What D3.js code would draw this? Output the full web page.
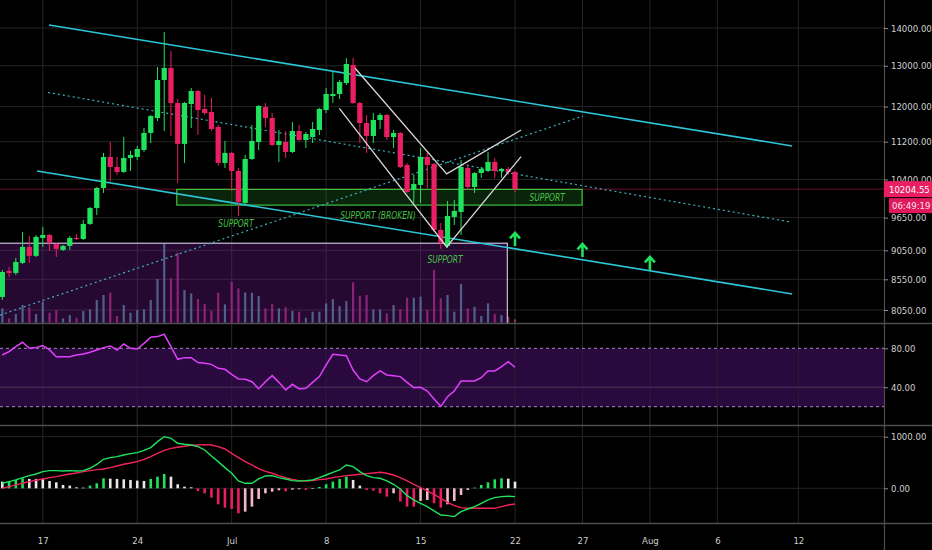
<!DOCTYPE html>
<html><head><meta charset="utf-8">
<script src="https://cdn.jsdelivr.net/npm/d3@7"></script>
<style>
body{margin:0;background:#000;}
svg{display:block;}
text{font-family:"Liberation Sans Narrow","DejaVu Sans Condensed","Liberation Sans",sans-serif;}
</style>
</head><body>
<svg id="chart" width="932" height="550"></svg>
<script>
// ---------- DATA ----------
const firstCandle = "2019-06-14T00:00";
const lastCandle  = "2019-07-22T00:00";
const opens = [8259,8691,8657,8829,9111,8951,9273,9327,9164,9057,
  9129,9273,9254,9531,9835,10228,10870,10659,10555,10849,
  10870,11020,11394,11734,12642,12944,12085,11151,12061,12372,
  11943,11872,11529,10743,10956,10575,9932,10827,11194,11990,
  11734,11129,11194,10977,11438,11238,11304,11461,11919,12252,
  12300,12567,13020,12085,11619,11327,11688,11803,11304,11394,
  10701,10188,10289,10870,10722,9419,9129,9663,9758,10638,
  10248,10533,10575,10764,10575,10617,10554];
const highs = [8708,8760,8916,9382,9309,9327,9475,9346,9182,9146,
  9309,9346,9606,9854,10249,10956,11194,10870,11305,11000,
  11107,11506,11803,12969,13891,13383,12180,12108,12446,12396,
  12276,12204,11574,11216,10977,10638,10913,11574,12037,12085,
  11849,11461,11438,11642,11574,11416,11642,11967,12446,12842,
  12642,13198,13198,12108,11803,11849,11849,11826,11461,11416,
  10743,10492,11064,10956,10743,9550,9970,9990,10806,10722,
  10554,10659,10977,10849,10638,10659,10575];
const lows = [8210,8590,8623,8810,8829,8933,9111,9039,8933,9039,
  9057,9236,9236,9512,9701,10129,10350,10493,10534,10575,
  10806,10977,11172,11665,11438,11327,10329,10743,11506,11349,
  11803,11438,10680,10638,10168,9681,9893,10806,11020,11529,
  11107,10764,10849,10956,11216,11064,11172,11349,11849,12085,
  12180,12518,12061,11172,10956,11172,11483,11238,11064,10638,
  10129,9932,9932,10228,9383,9075,9093,9512,9327,10188,
  10129,10431,10554,10431,10431,10492,10148];
const closes = [8674,8657,8846,9111,8951,9291,9327,9182,9075,9129,
  9273,9254,9531,9835,10228,10870,10659,10555,10849,10913,
  11042,11394,11780,12642,12944,12085,11151,12085,12372,11919,
  11849,11483,10743,10956,10575,9951,10827,11216,12013,11734,
  11129,11216,10977,11438,11238,11371,11483,11943,12300,12300,
  12592,13045,12085,11619,11327,11688,11803,11304,11394,10659,
  10148,10309,10870,10701,9419,9182,9681,9777,10659,10248,
  10533,10617,10764,10575,10617,10554,10204.55];
const volumes = [43,13,26,53,46,26,63,30,38,13,
  23,15,35,40,68,83,90,20,53,30,
  38,40,68,131,236,133,210,98,88,71,
  56,36,90,55,123,103,91,90,80,43,
  56,43,46,35,33,15,33,33,58,71,
  50,65,121,81,83,40,40,28,53,40,
  75,75,78,38,158,73,83,33,116,43,
  48,20,58,26,23,18,10];
const rsi = [73.1,76.6,81.7,86.2,80.0,80.7,82.7,78.3,71.4,71.4,
  71.4,73.1,74.2,75.9,78.3,80.7,82.4,78.3,84.4,80.0,
  79.3,85.1,91.3,92.0,94.4,81.7,68.7,70.4,70.4,65.3,
  64.6,63.5,59.4,58.4,53.3,48.5,48.1,45.7,38.5,45.7,
  51.9,45.0,37.2,43.0,38.2,38.9,45.0,50.9,62.9,73.8,
  73.1,72.4,57.7,48.5,45.7,51.9,56.7,52.6,51.9,50.9,
  45.0,39.6,39.9,36.1,27.9,20.4,30.3,36.1,46.4,46.4,
  46.4,49.8,56.7,56.7,61.1,66.3,60.5];
const macdLine = [97,129,162,207,245,278,323,342,342,336,
  342,336,342,388,465,562,594,614,646,672,
  691,736,788,904,1001,969,872,853,840,808,
  743,627,517,401,291,142,97,97,181,239,
  245,207,181,149,142,149,162,207,258,310,
  355,452,420,323,245,207,194,142,78,-13,
  -142,-226,-291,-355,-439,-517,-530,-549,-452,-401,
  -355,-291,-226,-181,-162,-155,-162];
const signalLine = [0,32,65,97,129,155,181,207,226,252,
  278,297,323,342,362,375,401,433,465,491,
  517,562,614,678,736,775,795,814,833,840,
  846,840,808,762,678,594,517,452,381,329,
  291,245,207,174,149,142,149,168,181,207,
  226,245,258,271,284,297,310,291,258,207,
  142,78,13,-52,-116,-194,-271,-336,-375,-388,
  -388,-388,-388,-388,-355,-323,-304];
const histogram = [129,142,162,194,181,181,181,142,116,65,
  52,19,13,52,97,194,187,181,174,162,
  149,142,181,226,278,226,78,32,19,-52,
  -97,-181,-310,-375,-401,-485,-452,-355,-207,-97,
  -65,-39,-58,-26,-19,-32,-13,26,78,129,
  181,226,162,52,-32,-45,-97,-162,-97,-258,
  -355,-355,-245,-226,-291,-375,-310,-245,-129,-32,
  13,65,116,174,194,187,129];

const priceTicks = [14000,13000,12000,11200,10400,9650,9050,8550,8050];
const rsiTicks = [80,40];
const rsiBand = [80,20];
const macdTicks = [1000,0];
const timeTickDates = ["2019-06-17","2019-06-24","2019-07-01","2019-07-08","2019-07-15","2019-07-22","2019-07-27","2019-08-01","2019-08-06","2019-08-12"];
const timeTickLabels = ["17","24","Jul","8","15","22","27","Aug","6","12"];

const lastPrice = 10204.55;
const countdown = "06:49:19";

// drawings (time, price)
const channelUpper = [["2019-06-17T11:00",14083],["2019-08-11T13:00",11107]];
const channelLower = [["2019-06-16T13:40",10575],["2019-08-11T13:00",8308]];
const channelMid   = [["2019-06-17T09:15",12336],["2019-08-11T09:20",9569]];
const risingDotted = [["2019-06-13T20:00",7970],["2019-07-27T01:00",11780]];
const wedgeUpper = [["2019-07-10T03:30",12936],["2019-07-16T22:30",10514],["2019-07-22T10:50",11461]];
const wedgeLower = [["2019-07-08T23:30",11959],["2019-07-16T22:30",9111],["2019-07-22T10:50",10877]];
const supportBox = {t0:"2019-06-26T22:20", t1:"2019-07-26T23:20", top:10200, bottom:9890};
const volumeBox  = {t0:"2019-06-13T00:00", t1:"2019-07-21T10:20", top:9177, bottom:7700};
const labels = [
  {t:"2019-07-01T07:40", p:9550, text:"SUPPORT"},
  {t:"2019-07-11T20:10", p:9701, text:"SUPPORT (BROKEN)"},
  {t:"2019-07-16T19:30", p:8899, text:"SUPPORT"},
  {t:"2019-07-24T09:10", p:10049, text:"SUPPORT"}
];
const arrows = [["2019-07-22T00:00",9364],["2019-07-27T00:00",9164],["2019-08-01T00:00",8934]];

// ---------- SETUP ----------
const parseT = d3.timeParse("%Y-%m-%dT%H:%M");
const parseD = d3.timeParse("%Y-%m-%d");
const times = d3.timeHour.every(12).range(parseT(firstCandle), d3.timeHour.offset(parseT(lastCandle),1));
const candles = times.map((t,i)=>({t,o:opens[i],h:highs[i],l:lows[i],c:closes[i],v:volumes[i],
  rsi:rsi[i],macd:macdLine[i],sig:signalLine[i],hist:histogram[i]}));

const W=932, H=550, AX=884;
const MAIN_B=323, RSI_T=324, RSI_B=425, MACD_T=426, MACD_B=523;
const UP="#1fe35c", DN="#e91e63";
const AXIS_FONT = 9.5;

const x = d3.scaleTime().domain([parseD("2019-06-17"), parseD("2019-07-22")]).range([42.8, 515]);
const y = d3.scaleLog().domain([8050,14000]).range([310,28]);
const vy = d3.scaleLinear().domain([0,236]).range([322.7,244]);
const ry = d3.scaleLinear().domain([20,80]).range([406.7,348.3]);
const my = d3.scaleLinear().domain([0,1000]).range([488.3,436.7]);

function condense(sel, ratio){
  sel.each(function(){
    const l = this.getComputedTextLength();
    if(l>0) d3.select(this).attr("textLength", l*ratio).attr("lengthAdjust","spacingAndGlyphs");
  });
}

const svg = d3.select("#chart");
svg.append("rect").attr("width",W).attr("height",H).attr("fill","#000");
const defs = svg.append("defs");
function clip(id,y0,y1){defs.append("clipPath").attr("id",id).append("rect").attr("x",0).attr("y",y0).attr("width",AX).attr("height",y1-y0);}
clip("cm",0,MAIN_B); clip("cr",RSI_T,RSI_B); clip("cd",MACD_T,MACD_B);

const GRID="#242424";
const tickDates = timeTickDates.map(parseD);
const vg = svg.append("g");
[[0,MAIN_B],[RSI_T,RSI_B],[MACD_T,MACD_B]].forEach(([a,b])=>{
  vg.selectAll(null).data(tickDates).join("line")
    .attr("x1",d=>x(d)).attr("x2",d=>x(d)).attr("y1",a).attr("y2",b)
    .attr("stroke",GRID).attr("stroke-width",1);
});
svg.append("g").selectAll("line").data(priceTicks).join("line")
  .attr("x1",0).attr("x2",AX).attr("y1",d=>y(d)).attr("y2",d=>y(d))
  .attr("stroke",GRID);

// ---------- MAIN PANE ----------
const main = svg.append("g").attr("clip-path","url(#cm)");
const step = x(d3.timeHour.offset(times[0],12)) - x(times[0]);
const bw = step*0.78;
const T = s=>parseT(s);

main.append("line").attr("x1",0).attr("x2",AX).attr("y1",y(lastPrice)).attr("y2",y(lastPrice))
  .attr("stroke","#e91e63").attr("stroke-opacity",0.45).attr("stroke-width",1);

main.append("g").selectAll("rect").data(candles).join("rect")
  .attr("x",d=>x(d.t)-1.1).attr("width",2.2)
  .attr("y",d=>vy(d.v)).attr("height",d=>vy(0)-vy(d.v))
  .attr("fill",d=>d.c>=d.o?"#4f9aa0":"#b5307a").attr("opacity",0.8);

main.append("rect")
  .attr("x",x(T(volumeBox.t0))).attr("width",x(T(volumeBox.t1))-x(T(volumeBox.t0)))
  .attr("y",y(volumeBox.top)).attr("height",y(volumeBox.bottom)-y(volumeBox.top))
  .attr("fill","#7b1fa2").attr("fill-opacity",0.3)
  .attr("stroke","#cbbbe0").attr("stroke-width",1.2);

main.append("rect")
  .attr("x",x(T(supportBox.t0))).attr("width",x(T(supportBox.t1))-x(T(supportBox.t0)))
  .attr("y",y(supportBox.top)).attr("height",y(supportBox.bottom)-y(supportBox.top))
  .attr("fill","#2e9e30").attr("fill-opacity",0.22)
  .attr("stroke","#3cc23e").attr("stroke-width",1.2);

const line = d3.line().x(d=>x(T(d[0]))).y(d=>y(d[1]));
[channelMid, risingDotted].forEach(p=>main.append("path").attr("d",line(p))
  .attr("fill","none").attr("stroke","#3fb3bf").attr("stroke-width",1.2).attr("stroke-dasharray","2,3"));
[channelUpper, channelLower].forEach(p=>main.append("path").attr("d",line(p))
  .attr("fill","none").attr("stroke","#2cc6d8").attr("stroke-width",1.6));

const cg = main.append("g");
cg.selectAll("line").data(candles).join("line")
  .attr("x1",d=>x(d.t)).attr("x2",d=>x(d.t)).attr("y1",d=>y(d.h)).attr("y2",d=>y(d.l))
  .attr("stroke",d=>d.c>=d.o?UP:DN).attr("stroke-width",1);
cg.selectAll("rect").data(candles).join("rect")
  .attr("x",d=>x(d.t)-bw/2).attr("width",bw)
  .attr("y",d=>y(Math.max(d.o,d.c))).attr("height",d=>Math.max(1.2,Math.abs(y(d.o)-y(d.c))))
  .attr("fill",d=>d.c>=d.o?UP:DN);

[wedgeUpper, wedgeLower].forEach(p=>main.append("path").attr("d",line(p))
  .attr("fill","none").attr("stroke","#d8d8d8").attr("stroke-width",1.3));

main.append("g").selectAll("text").data(labels).join("text")
  .attr("x",d=>x(T(d.t))).attr("y",d=>y(d.p)).attr("dy","0.35em")
  .attr("text-anchor","middle").attr("font-style","italic").attr("font-size",10.5)
  .attr("fill","#46c246").text(d=>d.text).call(condense,0.8);

main.append("g").selectAll("path").data(arrows).join("path")
  .attr("transform",d=>`translate(${x(T(d[0]))},${y(d[1])})`)
  .attr("d","M-5,5.5L0,0L5,5.5M0,0L0,13")
  .attr("fill","none").attr("stroke","#22e05a").attr("stroke-width",2.6);

// ---------- RSI ----------
const rg = svg.append("g").attr("clip-path","url(#cr)");
rg.append("rect").attr("x",0).attr("width",AX).attr("y",ry(rsiBand[0])).attr("height",ry(rsiBand[1])-ry(rsiBand[0]))
  .attr("fill","#2a0a3e");
rg.selectAll(null).data(tickDates).join("line")
  .attr("x1",d=>x(d)).attr("x2",d=>x(d)).attr("y1",RSI_T).attr("y2",RSI_B).attr("stroke","#2b2b2b").attr("stroke-opacity",0.6);
rg.append("line").attr("x1",0).attr("x2",AX).attr("y1",ry(40)).attr("y2",ry(40)).attr("stroke","#4a3a58");
rg.selectAll(null).data(rsiBand).join("line")
  .attr("x1",0).attr("x2",AX).attr("y1",d=>ry(d)).attr("y2",d=>ry(d))
  .attr("stroke","#a88bc4").attr("stroke-width",1).attr("stroke-dasharray","3,3");
rg.append("path").datum(candles).attr("d",d3.line().x(d=>x(d.t)).y(d=>ry(d.rsi)))
  .attr("fill","none").attr("stroke","#e040fb").attr("stroke-width",1.5);

// ---------- MACD ----------
const mg = svg.append("g").attr("clip-path","url(#cd)");
macdTicks.forEach(v=>mg.append("line").attr("x1",0).attr("x2",AX).attr("y1",my(v)).attr("y2",my(v)).attr("stroke",GRID));
mg.selectAll("rect").data(candles).join("rect")
  .attr("x",d=>x(d.t)-1.3).attr("width",2.6)
  .attr("y",d=>Math.min(my(0),my(d.hist))).attr("height",d=>Math.abs(my(d.hist)-my(0)))
  .attr("fill",(d,i)=>{
    const prev = i>0?candles[i-1].hist:d.hist;
    if(d.hist>=0) return d.hist>prev?"#1fe35c":"#e8e8e8";
    return d.hist<=prev?"#e91e63":"#f6b6cc";
  });
mg.append("path").datum(candles).attr("d",d3.line().x(d=>x(d.t)).y(d=>my(d.sig)))
  .attr("fill","none").attr("stroke","#f0245a").attr("stroke-width",1.4);
mg.append("path").datum(candles).attr("d",d3.line().x(d=>x(d.t)).y(d=>my(d.macd)))
  .attr("fill","none").attr("stroke","#1fe35c").attr("stroke-width",1.4);

// ---------- SEPARATORS ----------
const SEP="#4d4d4d";
[MAIN_B+0.5, RSI_B+0.5, MACD_B+0.5].forEach(v=>svg.append("line").attr("x1",0).attr("x2",W).attr("y1",v).attr("y2",v).attr("stroke",SEP).attr("stroke-width",1.6));
svg.append("line").attr("x1",AX+0.5).attr("x2",AX+0.5).attr("y1",0).attr("y2",H).attr("stroke",SEP).attr("stroke-width",1.2);

// ---------- AXES ----------
function styleAxis(g){
  g.select(".domain").remove();
  g.selectAll(".tick line").attr("stroke","#8a8a8a");
  g.selectAll(".tick text").attr("fill","#cfcfcf").attr("font-size",AXIS_FONT)
    .style("font-family",'"Liberation Sans Narrow","DejaVu Sans Condensed","Liberation Sans",sans-serif');
}
const fmt = d3.format(".2f");
svg.append("g").attr("transform",`translate(${AX},0)`)
  .call(d3.axisRight(y).tickValues(priceTicks).tickFormat(fmt).tickSize(4).tickPadding(3)).call(styleAxis);
svg.append("g").attr("transform",`translate(${AX},0)`)
  .call(d3.axisRight(ry).tickValues(rsiTicks).tickFormat(fmt).tickSize(4).tickPadding(3)).call(styleAxis);
svg.append("g").attr("transform",`translate(${AX},0)`)
  .call(d3.axisRight(my).tickValues(macdTicks).tickFormat(fmt).tickSize(4).tickPadding(3)).call(styleAxis);
svg.append("g").attr("transform",`translate(0,${MACD_B})`)
  .call(d3.axisBottom(x).tickValues(tickDates).tickFormat((d,i)=>timeTickLabels[i]).tickSize(0).tickPadding(14))
  .call(styleAxis);

// last price label
const ly = y(lastPrice);
svg.append("rect").attr("x",AX).attr("y",ly-8).attr("width",W-AX).attr("height",16).attr("fill","#e91e63");
svg.append("text").attr("x",AX+5).attr("y",ly).attr("dy","0.36em").attr("font-size",AXIS_FONT).attr("fill","#fff")
  .text(fmt(lastPrice));
svg.append("rect").attr("x",AX+5).attr("y",ly+9).attr("width",W-AX-5).attr("height",15).attr("fill","#e0185c");
svg.append("text").attr("x",AX+8).attr("y",ly+16.5).attr("dy","0.36em").attr("font-size",AXIS_FONT).attr("fill","#ffe0ea")
  .text(countdown);
</script>
</body></html>
